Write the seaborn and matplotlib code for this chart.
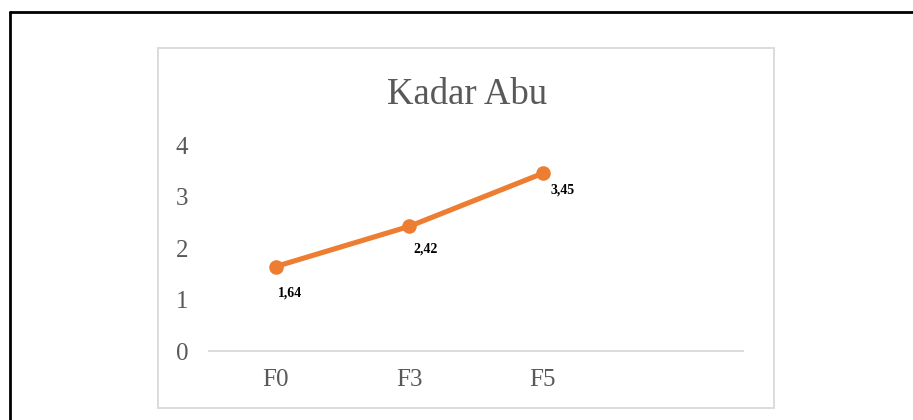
import matplotlib
matplotlib.use("Agg")
import matplotlib.pyplot as plt
from matplotlib.lines import Line2D
from matplotlib.patches import Rectangle
import seaborn as sns
import pandas as pd

# data
categories = ["F0", "F3", "F5"]
values = [1.64, 2.42, 3.45]
value_labels = ["1,64", "2,42", "3,45"]
tick_labels = ["F0", "F3", "F5", ""]
y_ticks = [0, 1, 2, 3, 4]

sns.set_style("white")
plt.rcParams["font.family"] = ["Liberation Serif", "DejaVu Serif"]

text_gray = "#595959"
line_orange = "#ED7D31"
frame_gray = "#d9d9d9"

fig = plt.figure(figsize=(9.13, 4.2), dpi=100)

# document frame (black) and chart area frame (light gray)
fig.add_artist(Line2D([9.5 / 913, 9.5 / 913], [0, 1 - 12 / 420],
                      color="black", lw=2.0, transform=fig.transFigure))
fig.add_artist(Line2D([9.5 / 913, 1], [1 - 12 / 420, 1 - 12 / 420],
                      color="black", lw=2.0, transform=fig.transFigure))
fig.add_artist(Rectangle((158 / 913, 1 - 408 / 420), 616 / 913, 360 / 420,
                         fill=False, edgecolor=frame_gray, lw=1.3,
                         transform=fig.transFigure))

ax = fig.add_axes([209 / 913, 1 - 351 / 420, 534 / 913, 206 / 420])

df = pd.DataFrame({"formula": categories, "kadar": values})
sns.lineplot(data=df, x="formula", y="kadar", ax=ax, sort=False,
             color=line_orange, lw=3.7, marker="o", markersize=10.5,
             markeredgewidth=0)

# data labels, nudged like in the original
offsets = [(10, -19), (12, -16), (14, -12)]
for i, (v, lab) in enumerate(zip(values, value_labels)):
    ax.annotate(lab, (i, v), xytext=offsets[i], textcoords="offset points",
                ha="center", va="center", fontsize=10, fontweight="bold",
                color="black")

ax.set_xlim(-0.5, 3.5)
ax.set_ylim(0, 4)
ax.set_xticks(range(len(tick_labels)))
ax.set_xticklabels(tick_labels)
ax.set_yticks(y_ticks)
ax.tick_params(axis="both", length=0, labelsize=18, labelcolor=text_gray)
ax.tick_params(axis="y", pad=15)
ax.tick_params(axis="x", pad=13)
ax.set_xlabel("")
ax.set_ylabel("")

for side in ["top", "right", "left"]:
    ax.spines[side].set_visible(False)
ax.spines["bottom"].set_color(frame_gray)
ax.spines["bottom"].set_linewidth(1.3)
ax.set_facecolor("none")

fig.text(467 / 913, 1 - 95 / 420, "Kadar Abu", ha="center", va="center",
         fontsize=26.5, color=text_gray)

fig.savefig("out.png", dpi=100)
